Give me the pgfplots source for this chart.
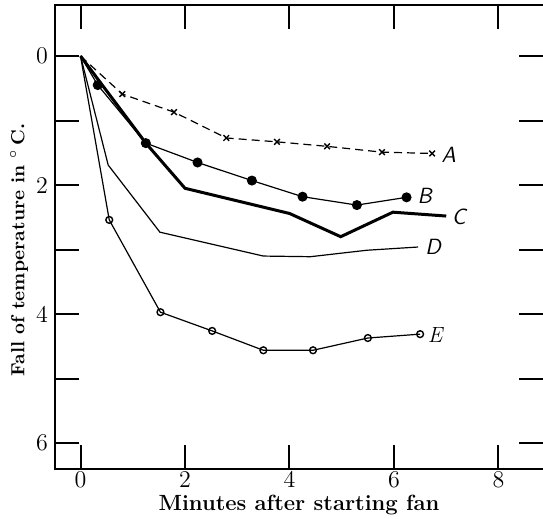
\documentclass[border=0pt]{standalone}
\usepackage{pgfplots}
\pgfplotsset{compat=1.18}
\begin{document}
\begin{tikzpicture}
\begin{axis}[
  scale only axis, width=244pt, height=232pt,
  xmin=-0.488, xmax=8.852, ymin=-0.79, ymax=6.40,
  y dir=reverse,
  separate axis lines,
  axis line style={draw=none},
  tick align=inside,
  major tick length=12pt,
  every tick/.style={black, line width=1pt},
  xtick={0,2,4,6,8}, ytick={0,1,2,3,4,5,6},
  yticklabels={0,,2,,4,,6},
  tick label style={font=\fontsize{12}{14}\selectfont},
  xticklabel style={yshift=2pt},
  clip=false,
]
\draw[line width=1pt, line join=miter] (axis cs:8.852,-0.79) -- (axis cs:-0.488,-0.79) -- (axis cs:-0.488,6.40) -- (axis cs:8.852,6.40);
% A
\addplot[black, line width=0.6pt, dash pattern=on 4pt off 2.5pt, mark=x, mark size=2pt, mark options={solid, line width=0.7pt}, mark indices={2,3,4,5,6,7,8}]
  coordinates {(0,0)(0.8,0.59)(1.79,0.87)(2.79,1.27)(3.76,1.33)(4.72,1.40)(5.77,1.49)(6.73,1.51)};
% B
\addplot[black, line width=0.6pt, mark=*, mark size=2.2pt, mark indices={2,3,4,5,6,7,8}]
  coordinates {(0,0)(0.33,0.45)(1.25,1.35)(2.24,1.65)(3.28,1.93)(4.25,2.18)(5.29,2.31)(6.24,2.19)};
% C
\addplot[black, line width=1.5pt, line join=miter, no marks]
  coordinates {(0,0)(1.25,1.35)(2.0,2.05)(4.0,2.44)(4.98,2.80)(5.98,2.42)(7.0,2.48)};
% D
\addplot[black, line width=0.6pt, no marks]
  coordinates {(0,0)(0.53,1.69)(1.52,2.73)(3.5,3.10)(4.4,3.11)(5.48,3.01)(6.46,2.96)};
% E
\addplot[black, line width=0.6pt, mark=o, mark size=1.7pt, mark options={line width=0.7pt}, mark indices={2,3,4,5,6,7,8}]
  coordinates {(0,0)(0.55,2.54)(1.53,3.97)(2.52,4.26)(3.5,4.56)(4.45,4.56)(5.5,4.37)(6.5,4.31)};
\node[font=\fontsize{11}{13}\selectfont\sffamily\itshape] at (axis cs:7.05,1.53) {A};
\node[font=\fontsize{11}{13}\selectfont\sffamily\itshape] at (axis cs:6.59,2.16) {B};
\node[font=\fontsize{11}{13}\selectfont\sffamily\itshape] at (axis cs:7.24,2.49) {C};
\node[font=\fontsize{11}{13}\selectfont\sffamily\itshape] at (axis cs:6.75,2.96) {D};
\node[font=\fontsize{11}{13}\selectfont\itshape] at (axis cs:6.79,4.33) {E};
\node[font=\fontsize{11}{13}\selectfont\bfseries] at (axis cs:4.182,6.961) {Minutes after starting fan};
\node[font=\fontsize{9.5}{11}\selectfont\bfseries, rotate=90] at (axis cs:-1.177,3.008) {Fall of temperature in $^\circ$\,C.};
\coordinate (tl) at (axis cs:-1.541,-0.868);
\coordinate (br) at (axis cs:8.852,7.163);
\end{axis}
\pgfresetboundingbox
\path (tl) rectangle (br);
\end{tikzpicture}
\end{document}
